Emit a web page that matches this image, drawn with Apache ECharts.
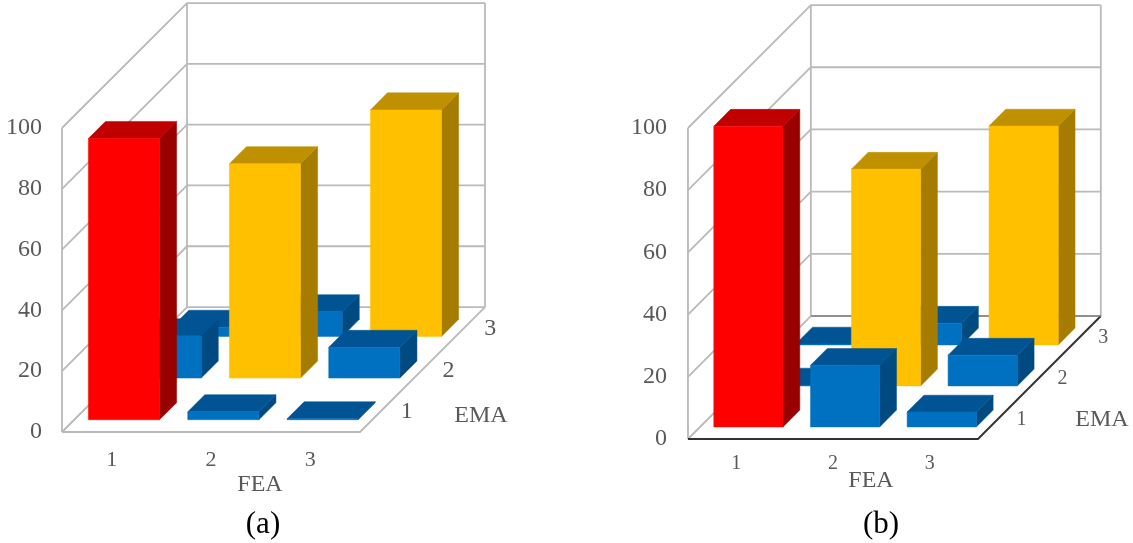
<!DOCTYPE html>
<html>
<head>
<meta charset="utf-8">
<title>FEA / EMA</title>
<style>
  html, body { margin: 0; padding: 0; background: #fff; }
  #chart { width: 1133px; height: 543px; }
</style>
<script src="https://cdn.jsdelivr.net/npm/echarts@6/dist/echarts.min.js"></script>
</head>
<body>
<div id="chart"></div>
<script>
const feaLabels = ['1', '2', '3'];
const emaLabels = ['1', '2', '3'];
const valueTicks = [0, 20, 40, 60, 80, 100];

// 每行一个 EMA，顺序对应 FEA 1/2/3
const panelAEma1 = [92.5, 2.6, 0.3];
const panelAEma2 = [13.9, 70.5, 10.1];
const panelAEma3 = [3, 8.1, 74.5];

const panelBEma1 = [96.7, 19.8, 4.8];
const panelBEma2 = [0.3, 69.7, 9.9];
const panelBEma3 = [0.3, 7, 70.4];

const FONT = '"Liberation Serif", "Times New Roman", serif';
const TEXT = '#595959';
const GRID_LINE = '#bababa';

const TONES = {
  red: { front: '#ff0000', top: '#c00000', side: '#990000' },
  gold: { front: '#ffc000', top: '#bf9000', side: '#a67c00' },
  blue: { front: '#0070c0', top: '#005494', side: '#004a82' }
};

// 柱子颜色按高度分段
function toneOf(v) {
  if (v >= 90) return TONES.red;
  if (v >= 50) return TONES.gold;
  return TONES.blue;
}

function toBarData(rows) {
  // 从后往前画，前排柱子盖住后排
  const out = [];
  for (let e = rows.length - 1; e >= 0; e--) {
    rows[e].forEach((v, f) => out.push([f, e, v]));
  }
  return out;
}

// 斜投影：深度折算成 x、y 轴上的偏移
function projector(api, kx, kv) {
  return (x, d, v) => api.coord([x + d * kx, v + d * kv]);
}

function poly(points, fill) {
  return {
    type: 'polygon',
    shape: { points },
    style: { fill, stroke: fill, lineWidth: 0.5 }
  };
}

function line(points, stroke, lineWidth) {
  return {
    type: 'polyline',
    shape: { points },
    style: { fill: 'none', stroke, lineWidth }
  };
}

function makeFrameSeries(gridIdx, kx, kv, dark) {
  return {
    type: 'custom',
    xAxisIndex: gridIdx * 2,
    yAxisIndex: gridIdx,
    silent: true,
    z: 1,
    data: valueTicks.map(v => [0, v]),
    renderItem(params, api) {
      const p = projector(api, kx, kv);
      const v = api.value(1);
      const children = [
        line([p(0, 0, v), p(0, 3, v), p(3, 3, v)], GRID_LINE, 1.8)
      ];
      if (v === 0) {
        children.push(line([p(0, 0, 0), p(0, 0, 100)], GRID_LINE, 1.8));
        children.push(line([p(0, 3, 0), p(0, 3, 100)], GRID_LINE, 1.8));
        children.push(line([p(3, 3, 0), p(3, 3, 100)], GRID_LINE, 1.8));
        children.push(line([p(0, 0, 0), p(3, 0, 0), p(3, 3, 0)], dark ? '#333333' : GRID_LINE, dark ? 2 : 1.8));
        if (dark) children.push(line([p(0, 3, 0), p(3, 3, 0)], '#7f7f7f', 1.5));
      }
      return { type: 'group', children };
    }
  };
}

function makeBarSeries(gridIdx, rows, kx, kv) {
  const barW = 0.716, gapX = 0.142;
  const barD = 0.41, gapD = 0.295;
  return {
    type: 'custom',
    xAxisIndex: gridIdx * 2,
    yAxisIndex: gridIdx,
    silent: true,
    z: 3,
    data: toBarData(rows),
    renderItem(params, api) {
      const p = projector(api, kx, kv);
      const v = api.value(2);
      const x0 = api.value(0) + gapX, x1 = x0 + barW;
      const d0 = api.value(1) + gapD, d1 = d0 + barD;
      const tone = toneOf(v);
      return {
        type: 'group',
        children: [
          poly([p(x1, d0, 0), p(x1, d1, 0), p(x1, d1, v), p(x1, d0, v)], tone.side),
          poly([p(x0, d0, v), p(x1, d0, v), p(x1, d1, v), p(x0, d1, v)], tone.top),
          poly([p(x0, d0, 0), p(x1, d0, 0), p(x1, d0, v), p(x0, d0, v)], tone.front)
        ]
      };
    }
  };
}

// 右侧 EMA 刻度文字
function makeEmaLabelSeries(gridIdx, kx, kv, fontSize, offset) {
  return {
    type: 'custom',
    xAxisIndex: gridIdx * 2,
    yAxisIndex: gridIdx,
    silent: true,
    z: 4,
    data: emaLabels.map((label, i) => [i, label]),
    renderItem(params, api) {
      const p = projector(api, kx, kv);
      const pos = p(3, api.value(0) + 0.5, 0);
      return {
        type: 'text',
        style: {
          text: emaLabels[params.dataIndex],
          x: pos[0] + offset,
          y: pos[1] + 1,
          fill: TEXT,
          font: fontSize + 'px ' + FONT,
          align: 'center',
          verticalAlign: 'middle'
        }
      };
    }
  };
}

function caption(text, x, y, size, fill) {
  return {
    type: 'text',
    x, y,
    style: {
      text, fill,
      font: size + 'px ' + FONT,
      align: 'center',
      verticalAlign: 'middle'
    }
  };
}

function valueX() {
  return { type: 'value', min: 0, max: 3, show: false };
}

function catX(gridIndex, fontSize, margin) {
  return {
    type: 'category',
    gridIndex,
    data: feaLabels,
    position: 'bottom',
    axisLine: { show: false },
    axisTick: { show: false },
    axisLabel: { color: TEXT, fontFamily: FONT, fontSize, margin }
  };
}

function valueY(gridIndex, margin) {
  return {
    type: 'value',
    gridIndex,
    min: 0,
    max: 100,
    interval: 20,
    axisLine: { show: false },
    axisTick: { show: false },
    splitLine: { show: false },
    axisLabel: { color: TEXT, fontFamily: FONT, fontSize: 24, margin, padding: [9, 0, 0, 0] }
  };
}

const chart = echarts.init(document.getElementById('chart'), null, { renderer: 'canvas' });

// 深度系数：每个 EMA 格子折算成的 x、数值偏移
const KX_A = 0.4195, KV_A = 13.7;
const KX_B = 0.4236, KV_B = 13.18;

chart.setOption({
  animation: false,
  backgroundColor: '#fff',
  grid: [
    { left: 62, top: 128, width: 298, height: 304 },
    { left: 688, top: 128, width: 290, height: 311 }
  ],
  xAxis: [
    { ...valueX(), gridIndex: 0 },
    catX(0, 22, 17),
    { ...valueX(), gridIndex: 1 },
    catX(1, 20, 15)
  ],
  yAxis: [valueY(0, 20), valueY(1, 21)],
  series: [
    makeFrameSeries(0, KX_A, KV_A, false),
    makeBarSeries(0, [panelAEma1, panelAEma2, panelAEma3], KX_A, KV_A),
    makeEmaLabelSeries(0, KX_A, KV_A, 24, 26),
    makeFrameSeries(1, KX_B, KV_B, true),
    makeBarSeries(1, [panelBEma1, panelBEma2, panelBEma3], KX_B, KV_B),
    makeEmaLabelSeries(1, KX_B, KV_B, 20, 23)
  ],
  graphic: [
    caption('FEA', 260, 485, 24, TEXT),
    caption('EMA', 481, 416, 24, TEXT),
    caption('(a)', 263, 525, 31, '#000'),
    caption('FEA', 871, 481, 24, TEXT),
    caption('EMA', 1102, 420, 24, TEXT),
    caption('(b)', 881, 525, 31, '#000')
  ]
});

window.addEventListener('resize', () => chart.resize());
</script>
</body>
</html>
